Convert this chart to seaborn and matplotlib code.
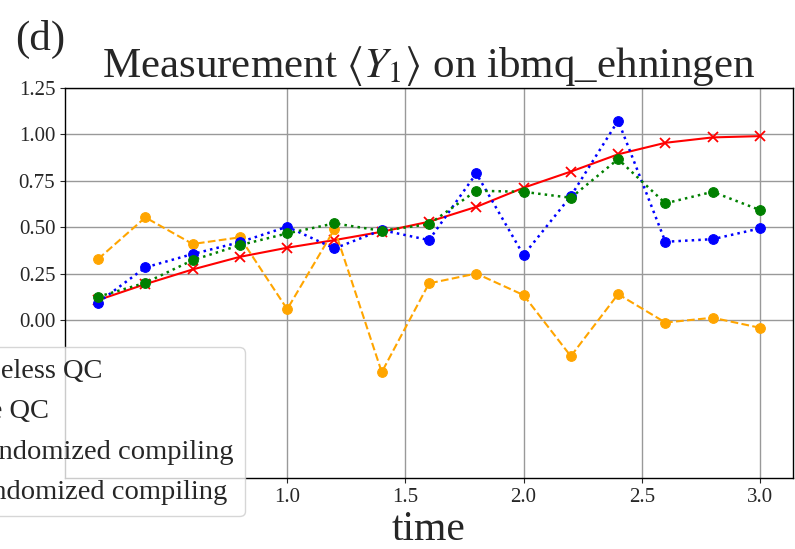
import matplotlib
matplotlib.use("Agg")
import matplotlib.pyplot as plt
import numpy as np
import pandas as pd
import seaborn as sns

# data
time = [0.2, 0.4, 0.6, 0.8, 1.0, 1.2, 1.4, 1.6, 1.8, 2.0, 2.2, 2.4, 2.6, 2.8, 3.0]
noiseless = [0.108, 0.194, 0.273, 0.341, 0.39, 0.431, 0.476, 0.53, 0.61, 0.713,
             0.80, 0.893, 0.955, 0.984, 0.991]
fake_qc = [0.329, 0.553, 0.41, 0.446, 0.059, 0.49, -0.28, 0.198, 0.251, 0.135,
           -0.194, 0.14, -0.013, 0.013, -0.041]
rc_a = [0.095, 0.284, 0.356, 0.42, 0.503, 0.386, 0.485, 0.431, 0.79, 0.35,
        0.668, 1.074, 0.422, 0.436, 0.494]
rc_b = [0.126, 0.201, 0.323, 0.404, 0.467, 0.521, 0.481, 0.517, 0.697, 0.691,
        0.659, 0.867, 0.629, 0.691, 0.593]

labels = ["Noiseless QC", "Fake QC",
          "& randomized compiling",
          "+ randomized compiling"]
xticks = [1.0, 1.5, 2.0, 2.5, 3.0]
yticks = [0.0, 0.25, 0.5, 0.75, 1.0, 1.25]

sns.set_style("ticks")
plt.rcParams["font.family"] = ["Liberation Serif", "DejaVu Serif"]
plt.rcParams["mathtext.fontset"] = "stix"

fig = plt.figure(figsize=(7.95, 5.49), dpi=100)
ax = fig.add_axes([0.0818, 0.1293, 0.9157, 0.7104])

sns.lineplot(x=time, y=noiseless, ax=ax, color="red", linestyle="-", marker="x",
             markersize=7, markeredgecolor="red", markeredgewidth=1.3,
             linewidth=1.5, label=labels[0])
sns.lineplot(x=time, y=fake_qc, ax=ax, color="orange", linestyle="--", marker="o",
             markersize=7, markeredgecolor="orange", linewidth=1.5, label=labels[1])
sns.lineplot(x=time, y=rc_a, ax=ax, color="blue", linestyle=":", marker="o",
             markersize=7, markeredgecolor="blue", linewidth=1.8, label=labels[2])
sns.lineplot(x=time, y=rc_b, ax=ax, color="green", linestyle=":", marker="o",
             markersize=7, markeredgecolor="green", linewidth=1.8, label=labels[3])

ax.set_ylim(-0.85, 1.25)
ax.set_xticks(xticks)
ax.set_yticks(yticks)
ax.grid(True, color="0.6", linewidth=1.0)
ax.tick_params(labelsize=15)
for s in ax.spines.values():
    s.set_color("black")
    s.set_linewidth(1.0)

ax.set_xlabel("time", fontsize=30, labelpad=3)
ax.set_ylabel("")
ax.set_title(r"Measurement $\langle Y_1 \rangle$ on ibmq_ehningen", fontsize=31, pad=4)
fig.text(15 / 795, 1 - 50 / 549, "(d)", fontsize=31, ha="left", va="baseline")

ax.legend(loc="upper right", bbox_to_anchor=(245 / 795, 1 - 347 / 549),
          bbox_transform=fig.transFigure, borderaxespad=0,
          fontsize=20.5, frameon=True)

fig.savefig("out.png", dpi=100)
